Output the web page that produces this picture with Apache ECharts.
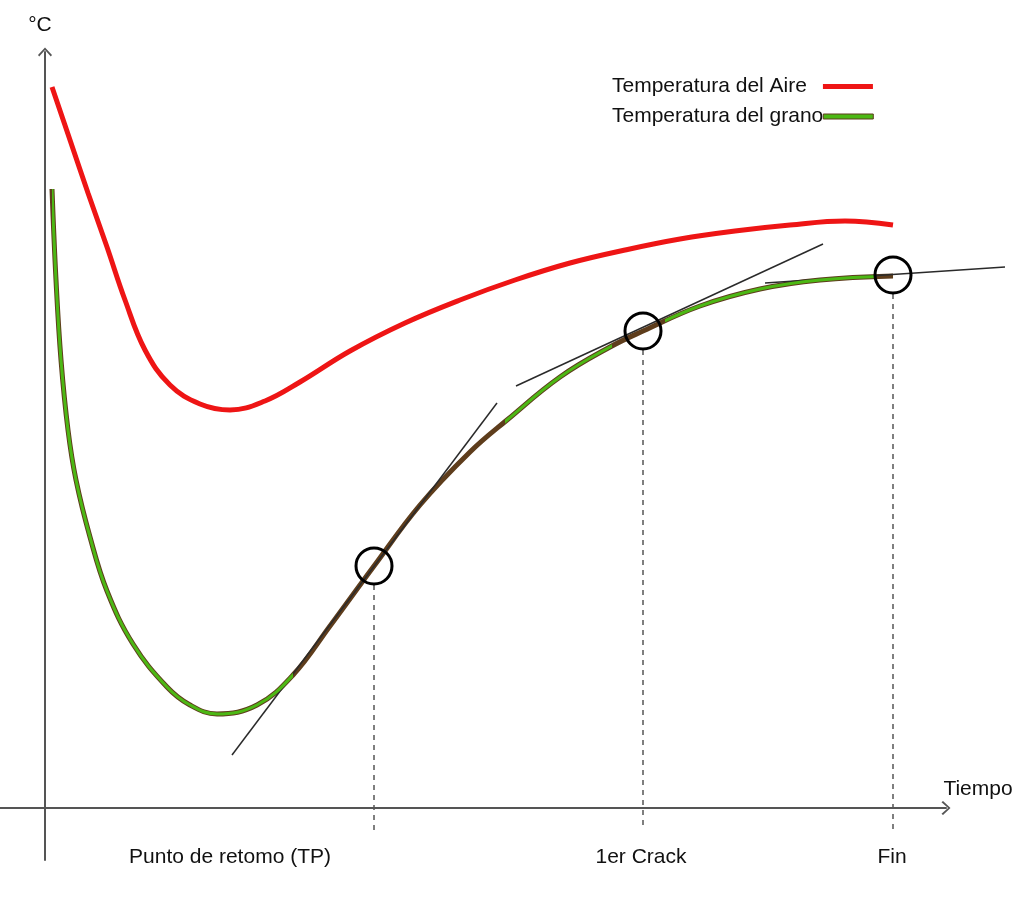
<!DOCTYPE html>
<html>
<head>
<meta charset="utf-8">
<script src="https://cdn.jsdelivr.net/npm/echarts@6/dist/echarts.min.js"></script>
<style>html,body{margin:0;padding:0;background:#fff}#c{width:1024px;height:898px}</style>
</head>
<body>
<div id="c"></div>
<script>
// ---- Data (time units / temperature units) ----
const airTime  = [7, 25, 43, 62, 80, 100, 125, 155, 185, 220, 255, 305, 360, 415, 470, 525, 580, 635, 690, 745, 800, 848];
const airTemp  = [721, 668, 615, 561, 508, 458, 423, 404, 398, 407, 426, 457, 485, 508, 528, 545, 558, 569, 577, 583, 587, 583];

const grainTime = [7, 11, 16, 23, 31, 45, 62, 88, 122, 145, 172, 212, 248, 285, 329, 375, 425, 462, 515, 565, 598, 655, 715, 775, 848];
const grainTemp = [619, 528, 448, 378, 328, 271, 217, 164, 121, 103, 94, 103, 133, 182, 242, 303, 356, 388, 431, 461, 477, 502, 519, 528, 532];

const eventNames = ['Punto de retomo (TP)', '1er Crack', 'Fin'];
const eventTime  = [329, 598, 848];
const eventTemp  = [242, 477, 533];

const tangentTPTime    = [187, 452];
const tangentTPTemp    = [53, 405];
const tangentCrackTime = [471, 778];
const tangentCrackTemp = [422, 564];
const tangentFinTime   = [720, 960];
const tangentFinTemp   = [525, 541];

const greenRanges = [[7, 248], [460, 567], [620, 830]];

const legendNames = ['Temperatura del Aire', 'Temperatura del grano'];
const axisNames = ['°C', 'Tiempo'];

// ---- helpers ----
const zip = (a, b) => a.map((v, i) => [v, b[i]]);
const FONT = '"Liberation Sans", Arial, sans-serif';
const RED = '#ee1515', GREEN = '#4cb814', BROWN = '#5e3d1c', INK = '#111';
const circleR = 19, dropTo = -22;
const SMOOTH = 0.4;

const arrow = 'path://M7,0 L14,7.5 L12.8,9 L7,2.4 L1.2,9 L0,7.5 Z';

const hiddenAxis = (min, max, idx) => ({
  type: 'value', min: min, max: max, gridIndex: idx, show: false,
  axisLine: { show: false }, axisTick: { show: false }, axisLabel: { show: false }, splitLine: { show: false }
});

const tangentSeries = (t, v) => ({
  type: 'line', data: zip(t, v), symbol: 'none', silent: true, xAxisIndex: 1, yAxisIndex: 1,
  lineStyle: { color: '#2a2a2a', width: 1.5 }, z: 4
});

const dropSeries = eventTime.map((t, i) => ({
  type: 'line', data: [[t, eventTemp[i] - circleR], [t, dropTo]], symbol: 'none', silent: true,
  lineStyle: { color: '#555', width: 1.5, type: [5, 5] }, z: 2
}));

const series = [
  { name: legendNames[0], type: 'line', data: zip(airTime, airTemp), smooth: SMOOTH,
    symbol: 'none', lineStyle: { color: RED, width: 5 }, itemStyle: { color: RED }, z: 3 },
  { name: 'grainEdge', type: 'line', data: zip(grainTime, grainTemp), smooth: SMOOTH,
    symbol: 'none', lineStyle: { color: BROWN, width: 5 }, z: 3 },
  { name: legendNames[1], type: 'line', data: zip(grainTime, grainTemp), smooth: SMOOTH,
    symbol: 'none', lineStyle: { width: 3 }, itemStyle: { color: GREEN }, z: 5 },
  tangentSeries(tangentTPTime, tangentTPTemp),
  tangentSeries(tangentCrackTime, tangentCrackTemp),
  tangentSeries(tangentFinTime, tangentFinTemp),
  ...dropSeries,
  { type: 'scatter', data: zip(eventTime, eventTemp), symbol: 'circle', symbolSize: 36, silent: true,
    itemStyle: { color: 'rgba(255,255,255,0)', borderColor: '#000', borderWidth: 3, opacity: 1 }, z: 6 }
];

const chart = echarts.init(document.getElementById('c'), null, { renderer: 'canvas' });
chart.setOption({
  animation: false,
  backgroundColor: '#fff',
  grid: [
    { left: 0, right: 78, top: 52, bottom: 38 },
    { left: 0, right: 0, top: 52, bottom: 38 }
  ],
  xAxis: [{
    type: 'value', min: -45, max: 901,
    axisLine: { onZero: true, symbol: ['none', arrow], symbolSize: [14, 9], lineStyle: { color: '#555', width: 2 } },
    axisTick: { show: false }, axisLabel: { show: false }, splitLine: { show: false }
  }, hiddenAxis(-45, 979, 1)],
  yAxis: [{
    type: 'value', min: -52, max: 756,
    axisLine: { onZero: true, symbol: ['none', arrow], symbolSize: [14, 9], lineStyle: { color: '#555', width: 2 } },
    axisTick: { show: false }, axisLabel: { show: false }, splitLine: { show: false }
  }, hiddenAxis(-52, 756, 1)],
  visualMap: {
    type: 'piecewise', show: false, dimension: 0, seriesIndex: 2,
    pieces: greenRanges.map(r => ({ gte: r[0], lte: r[1], color: GREEN })),
    outOfRange: { color: 'rgba(0,0,0,0)' }
  },
  legend: [
    { data: [{ name: legendNames[0], itemStyle: { color: RED } }], left: 612, top: 76, padding: 0,
      align: 'right', icon: 'rect', itemWidth: 50, itemHeight: 5, selectedMode: false,
      textStyle: { fontSize: 21, fontFamily: FONT, color: INK, padding: [0, 11, 0, 0] } },
    { data: [{ name: legendNames[1], itemStyle: { color: GREEN, borderColor: BROWN, borderWidth: 1 } }], left: 612, top: 106, padding: 0,
      align: 'right', icon: 'rect', itemWidth: 50, itemHeight: 5, selectedMode: false,
      textStyle: { fontSize: 21, fontFamily: FONT, color: INK, padding: [0, -5, 0, 0] } }
  ],
  graphic: [
    { type: 'text', style: { text: axisNames[0], x: 40, y: 25, textAlign: 'center', textVerticalAlign: 'middle', font: '21px ' + FONT, fill: INK } },
    { type: 'text', style: { text: axisNames[1], x: 978, y: 789, textAlign: 'center', textVerticalAlign: 'middle', font: '21px ' + FONT, fill: INK } },
    { type: 'text', style: { text: eventNames[0], x: 230, y: 857, textAlign: 'center', textVerticalAlign: 'middle', font: '21px ' + FONT, fill: INK } },
    { type: 'text', style: { text: eventNames[1], x: 641, y: 857, textAlign: 'center', textVerticalAlign: 'middle', font: '21px ' + FONT, fill: INK } },
    { type: 'text', style: { text: eventNames[2], x: 892, y: 857, textAlign: 'center', textVerticalAlign: 'middle', font: '21px ' + FONT, fill: INK } }
  ],
  series: series
});
</script>
</body>
</html>
